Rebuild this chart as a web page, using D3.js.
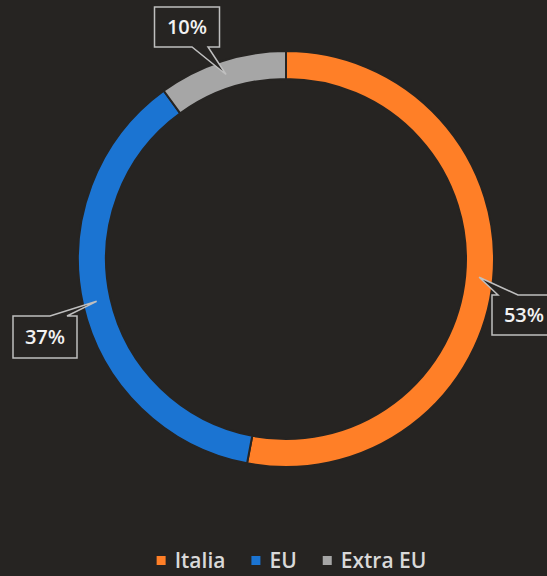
<!DOCTYPE html>
<html>
<head>
<meta charset="utf-8">
<script src="https://cdn.jsdelivr.net/npm/d3@7"></script>
<style>
  html, body { margin: 0; padding: 0; background: #262422; }
  svg { display: block; }
</style>
</head>
<body>
<svg id="chart" width="547" height="576"></svg>
<script>
const categories = ["Italia", "EU", "Extra EU"];
const shares = [53, 37, 10];
const colors = ["#FF7F27", "#1B74D2", "#A6A6A6"];

const svg = d3.select("#chart");
const width = +svg.attr("width");
const height = +svg.attr("height");
const bg = "#262422";

const cx = 286, cy = 259;
const outerR = 208, innerR = 180;

const data = categories.map((c, i) => ({name: c, value: shares[i], color: colors[i]}));

const pie = d3.pie().value(d => d.value).sort(null);
const arc = d3.arc().innerRadius(innerR).outerRadius(outerR);
const arcs = pie(data);

const g = svg.append("g").attr("transform", `translate(${cx},${cy})`);

g.selectAll("path.slice")
  .data(arcs)
  .join("path")
  .attr("class", "slice")
  .attr("d", arc)
  .attr("fill", d => d.data.color)
  .attr("stroke", bg)
  .attr("stroke-width", 2);

// callout boxes: box center, size, side of wedge, wedge base offsets
const callouts = {
  "Extra EU": {x: 187, y: 27, w: 65, h: 40, side: "bottom", b0: 5, b1: 21},
  "EU":       {x: 45, y: 337, w: 64, h: 42, side: "top", b0: 5, b1: 22},
  "Italia":   {x: 524, y: 315, w: 64, h: 40, side: "top", b0: -26, b1: -6}
};

function calloutPath(c, tx, ty) {
  const l = c.x - c.w / 2, r = c.x + c.w / 2, t = c.y - c.h / 2, b = c.y + c.h / 2;
  const p = d3.path();
  if (c.side === "top") {
    p.moveTo(l, t);
    p.lineTo(c.x + c.b0, t);
    p.lineTo(tx, ty);
    p.lineTo(c.x + c.b1, t);
    p.lineTo(r, t);
    p.lineTo(r, b);
    p.lineTo(l, b);
    p.closePath();
  } else {
    p.moveTo(l, t);
    p.lineTo(r, t);
    p.lineTo(r, b);
    p.lineTo(c.x + c.b1, b);
    p.lineTo(tx, ty);
    p.lineTo(c.x + c.b0, b);
    p.lineTo(l, b);
    p.closePath();
  }
  return p.toString();
}

const labelArc = d3.arc().innerRadius((innerR + outerR) / 2).outerRadius((innerR + outerR) / 2);

arcs.forEach(a => {
  const c = callouts[a.data.name];
  const [px, py] = labelArc.centroid(a);
  svg.append("path")
    .attr("d", calloutPath(c, cx + px, cy + py))
    .attr("fill", bg)
    .attr("stroke", "#BFBFBF")
    .attr("stroke-width", 1.5)
    .attr("stroke-linejoin", "miter");
  svg.append("text")
    .attr("x", c.x)
    .attr("y", c.y)
    .attr("dy", "0.36em")
    .attr("text-anchor", "middle")
    .attr("fill", "#F2F2F2")
    .style("font-family", "'Open Sans', sans-serif")
    .style("font-size", "20px")
    .style("font-weight", "600")
    .text(d3.format(".0f")(a.data.value) + "%");
});

// legend
const legend = svg.append("g");
const items = legend.selectAll("g")
  .data(data)
  .join("g");

items.append("rect")
  .attr("width", 9)
  .attr("height", 9)
  .attr("y", -4)
  .attr("fill", d => d.color);

items.append("text")
  .attr("x", 18)
  .attr("dy", "0.36em")
  .attr("fill", "#D9D9D9")
  .style("font-family", "'Open Sans', sans-serif")
  .style("font-size", "21px")
  .style("font-weight", "600")
  .text(d => d.name);

let offset = 0;
const gap = 26;
items.each(function() {
  const w = this.getBBox().width;
  d3.select(this).attr("transform", `translate(${offset},0)`);
  offset += w + gap;
});
const total = offset - gap;
legend.attr("transform", `translate(${(width - total) / 2 + 18},${560})`);
</script>
</body>
</html>
